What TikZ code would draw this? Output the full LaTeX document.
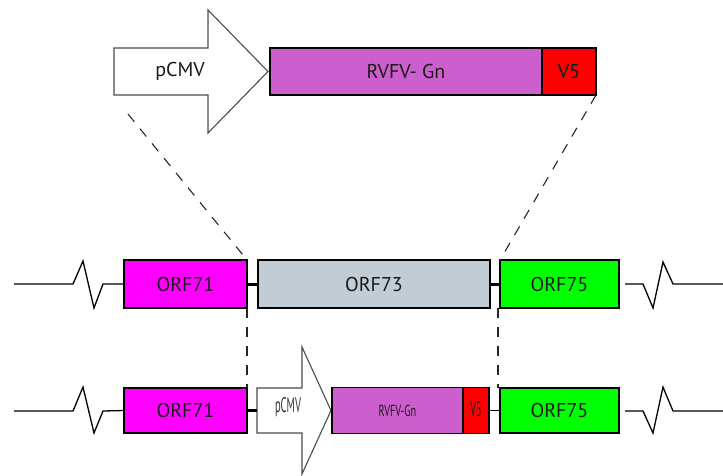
\documentclass[tikz,border=0pt]{standalone}
\usepackage{fontspec}
\setmainfont{PT Sans}
\usetikzlibrary{calc}
\definecolor{orfmag}{RGB}{255,0,255}
\definecolor{orfgreen}{RGB}{0,255,0}
\definecolor{orfgray}{RGB}{194,204,212}
\definecolor{gnpurple}{RGB}{205,94,205}
\definecolor{tagred}{RGB}{255,0,0}
\tikzset{
  gene/.style={draw=black, line width=1.5pt, inner sep=0pt, outer sep=0pt,
    anchor=north west, font=\fontsize{20}{24}\selectfont, text=black!90},
  promoter/.style={draw=black!70, line width=1.1pt, fill=white},
  genome/.style={line width=1.3pt, line join=miter},
  junction/.style={line width=3pt},
  insertlink/.style={line width=1.1pt},
  guide/.style={line width=1.1pt, dash pattern=on 10pt off 9pt, black!85}
}
\begin{document}
\begin{tikzpicture}[x=1pt,y=-1pt]
\useasboundingbox (0,0) rectangle (723,475);

% ---- expression cassette ----
\draw[promoter] (114,48) -- (208,48) -- (208,10) -- (268,71.5) -- (208,133) -- (208,95) -- (114,95) -- cycle;
\node[font=\fontsize{20}{24}\selectfont, text=black!90] (pcmvtop) at (180,71.5) {pCMV};
\node[gene, fill=gnpurple, minimum width=272pt, minimum height=47pt] (gntop) at (270,48) {RVFV- Gn};
\node[gene, fill=tagred, minimum width=54pt, minimum height=47pt] (v5top) at (542,48) {V5};
\coordinate (cassL) at (128,114);

% ---- wild-type locus ----
\node[gene, fill=orfmag, minimum width=123pt, minimum height=48pt] (orf71a) at (124,260) {ORF71};
\node[gene, fill=orfgray, minimum width=232pt, minimum height=48pt] (orf73) at (258,260) {ORF73};
\node[gene, fill=orfgreen, minimum width=119pt, minimum height=48pt] (orf75a) at (500,260) {ORF75};

\coordinate (wl0) at (14,284);
\coordinate (wr0) at (723,284);
\draw[genome] (wl0) -- (73,284) -- (83,261) -- (94,308) -- (103,284) -- (orf71a.west);
\draw[genome] (625,284) -- (643,284) -- (653,308) -- (663,262) -- (673,284) -- (wr0);
\draw[junction] (orf71a.east) -- (orf73.west);
\draw[junction] (orf73.east) -- (orf75a.west);

% ---- recombinant locus ----
\node[gene, fill=orfmag, minimum width=123pt, minimum height=45pt] (orf71b) at (124,388) {ORF71};
\node[gene, fill=orfgreen, minimum width=119pt, minimum height=45pt] (orf75b) at (500,388) {ORF75};
\draw[promoter] (257,388) -- (302,388) -- (302,347) -- (331,410.5) -- (302,474) -- (302,433) -- (257,433) -- cycle;
\coordinate (pcmvbotW) at (257,410.5);
\node[font=\fontsize{21}{24}\selectfont, text=black!80] (pcmvbot) at (288,407) {\scalebox{0.5}[1]{pCMV}};
\node[gene, fill=gnpurple, minimum width=131pt, minimum height=46pt] (gnbot) at (332,387.5) {\fontsize{16}{18}\selectfont\raisebox{-5pt}{\scalebox{0.64}[1]{RVFV-Gn}}};
\node[gene, fill=tagred, minimum width=26pt, minimum height=46pt] (v5bot) at (463,387.5) {\fontsize{21}{22}\selectfont\raisebox{2pt}{\scalebox{0.48}[1]{V5}}};

\draw[genome] (14,411) -- (73,411) -- (83,387) -- (94,433) -- (103,411) -- (orf71b.west);
\draw[genome] (625,411) -- (643,411) -- (653,433) -- (663,387) -- (673,411) -- (723,411);
\draw[junction] (orf71b.east) -- (pcmvbotW);
\draw[insertlink] (v5bot.east) -- (orf75b.west);

% ---- homology guides ----
\draw[guide] (cassL) -- (orf71a.north east);
\draw[guide] (v5top.south east) -- (orf75a.north west);
\draw[guide] (orf71a.south east) -- (orf71b.north east);
\draw[guide] ($(orf75a.south west)+(-2,0)$) -- ($(orf75b.north west)+(-2,0)$);
\end{tikzpicture}
\end{document}
